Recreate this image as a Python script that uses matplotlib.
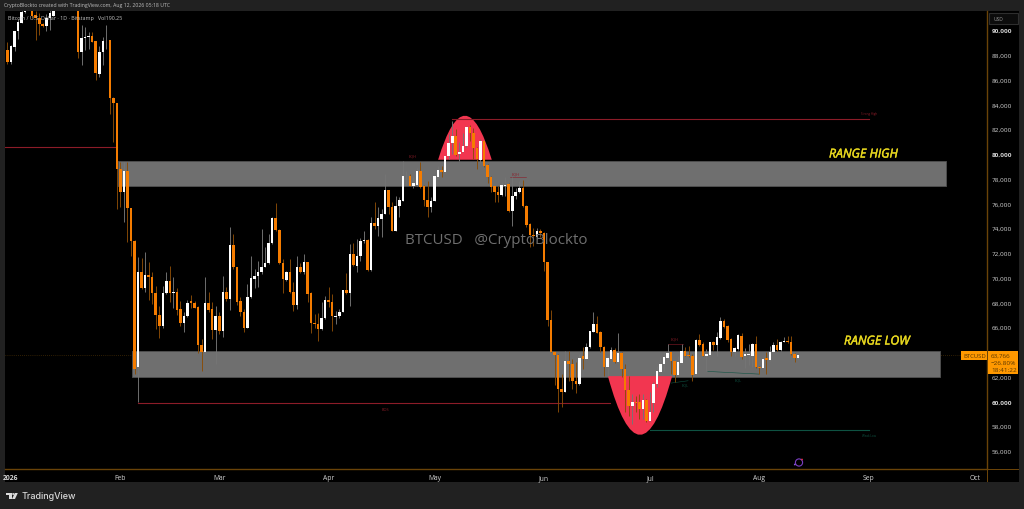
import matplotlib
matplotlib.use("Agg")
import matplotlib.pyplot as plt
import matplotlib.patheffects as pe
import pandas as pd
from matplotlib.patches import Rectangle, PathPatch, Polygon, Circle
from matplotlib.path import Path

opens = [
 87388,88385,87388,88654,89893,90566,91440,92400,93000,91210,
 90970,90485,90350,90950,91160,92000,95500,97000,95800,95500,
 95200,93000,88250,89354,89408,89489,89085,86446,88196,89166,
 89166,84534,84103,78800,76884,78634,75591,72979,62745,70475,
 69155,70205,70071,68724,66974,66112,68724,69747,68751,68859,
 67431,66327,66920,68078,67943,67593,64550,63957,67943,67458,
 65789,66920,65708,68805,68266,72656,70852,68105,67189,65896,
 68401,69882,70098,70421,70879,71148,72791,74837,73868,71175,
 69828,70475,68859,67782,70825,70421,71229,68724,66327,66247,
 65843,66704,68186,68051,66812,66866,67243,68966,68751,71902,
 70959,71767,72952,73033,70636,74406,74137,74729,75133,77099,
 75726,73787,75807,76211,78096,78231,77369,77477,78608,77369,
 76292,75673,76211,78096,78689,78500,79793,80870,81409,79955,
 80116,80601,82136,81678,80439,79523,81005,79093,78096,77369,
 76885,76696,77369,77558,75403,76615,76885,77235,75807,74326,
 73464,73249,73734,73572,71228,66596,64011,63741,60994,60779,
 63283,63014,61668,61398,63634,63418,64361,65626,66219,65573,
 64361,62799,63418,64172,63149,63903,62610,60914,59648,59971,
 59917,59379,60106,58436,59863,61398,62395,63014,63472,63957,
 63230,62126,63095,64091,63741,63687,62179,64953,64630,63687,
 63768,64765,64549,65115,66515,66057,65034,64011,64226,65303,
 63634,63741,63634,64657,62799,62691,63472,63364,63957,64549,
 64145,64819,64872,64791,63849,63472]
closes = [
 88331,87388,88735,89893,90620,91428,92400,93700,91160,90943,
 90485,90324,90943,91400,92000,95500,97000,95800,95500,95200,
 93000,88250,89354,89408,89489,89058,86527,88250,89112,89220,
 84507,84103,78800,76884,78634,75591,72979,62611,70475,69155,
 70205,70017,68724,66974,66112,68751,69747,68751,68805,67404,
 66327,66920,67943,67916,67566,64550,63957,67916,67404,65789,
 66920,65708,68805,68266,72656,70825,68051,67189,65896,68401,
 69936,70098,70421,70879,71175,72791,74837,73868,71175,69882,
 70475,68805,67782,70825,70475,71229,68697,66327,66220,65843,
 66704,68186,68051,66866,66920,67243,68993,68751,71902,71013,
 71767,72979,73060,70636,74406,74137,74783,75160,77099,75672,
 73787,75807,76292,78177,78150,77423,77639,78608,77289,76292,
 75673,76211,78177,78689,78500,79793,80870,81409,79901,80170,
 80601,82136,81678,80439,79577,81005,79039,78096,77342,76885,
 76669,77477,77477,75403,76615,76939,77235,75807,74245,73437,
 73384,73734,73572,71229,66596,64011,63741,60994,60779,63283,
 63014,61614,61398,63499,63418,64415,65653,66219,65519,64361,
 62799,63472,64172,63149,63903,62610,60914,59648,59971,59863,
 59379,60106,58436,59163,61398,62476,63014,63553,63930,63230,
 62126,63149,64091,63687,63633,62126,64953,64576,63687,63822,
 64765,64549,65169,66515,65976,64980,63957,64280,65357,63553,
 63795,63822,64630,62745,62664,63418,63364,64011,64549,64172,
 64819,64899,64791,63822,63472,63766]
highs = [
 88466,89004,88789,89893,90889,91900,93000,94700,93500,91500,
 91400,90600,91293,91600,93000,96000,97800,97200,96000,95800,
 95600,93200,90404,90216,89812,89812,89139,88735,89408,90404,
 89166,84588,84103,79300,79300,79300,75645,73033,71633,71552,
 72090,71282,70475,69290,67728,69343,70475,70905,70017,69128,
 68132,67189,68212,68590,68132,67674,65035,70017,68805,67997,
 67674,67189,70098,69209,74056,73518,70878,68401,67458,69478,
 71713,70690,71363,73922,72440,73518,74918,75995,73922,71498,
 70555,71498,69613,71713,71175,71902,71283,68805,67054,67135,
 68051,68482,69209,68670,67324,67458,69020,70367,72710,72791,
 73114,73168,73787,73114,74864,76076,75672,75537,78365,77099,
 76076,76561,76480,79443,78635,78366,78096,78824,79362,77477,
 77827,76480,78231,79039,79039,79847,81597,82674,82001,80924,
 81678,82270,82324,82055,80520,81193,81059,79174,78231,77423,
 77369,77746,78096,77639,78096,77208,77827,77908,75861,74380,
 74003,74003,73922,73653,71228,67377,64091,63795,62206,64091,
 64091,63418,63149,63822,64361,64684,65707,67242,66919,65707,
 64495,63634,64361,64280,65492,63957,63014,62072,60590,60456,
 60590,60590,60187,60725,61533,62880,63553,63957,64630,63957,
 63283,63687,64630,64361,64495,63822,65034,65438,64765,64226,
 64819,64899,65626,66838,66650,66165,65088,64361,65438,65519,
 64280,64630,64684,65249,62880,63553,63957,64441,64819,65034,
 64899,65169,65303,65249,63903,63766]
lows = [
 86984,87254,87254,88331,89273,90566,91400,92300,91000,89220,
 89597,90250,89947,90000,91100,91800,95000,95500,94800,95000,
 92500,87711,87173,88412,88466,89004,85988,86176,87200,88466,
 83214,80979,75537,75672,74514,72844,71767,62207,59918,69074,
 68859,68212,67862,65843,65089,65896,68670,67997,67512,67001,
 66112,65573,66785,67539,67512,63903,62476,63903,67189,65035,
 63016,65439,65169,68132,67404,70690,67782,66920,65573,65896,
 68320,69128,69209,70286,70825,71094,72710,73787,71094,68751,
 69747,68751,67324,67458,70367,70286,68051,65519,65896,64900,
 65762,66650,67593,65708,66247,66704,67189,68670,67728,70959,
 70421,71363,72791,70555,70555,73922,73383,73248,75106,75133,
 73733,73760,74864,76211,77477,77369,77208,77423,77235,75807,
 74865,75269,76184,78015,78096,78446,79577,79981,79847,79443,
 80116,80520,81059,79577,78770,79227,78904,77639,76885,76077,
 76077,76561,76561,75323,74192,76346,76831,75673,74057,72441,
 72576,73115,73249,70555,66057,63957,61318,59109,59513,60725,
 61668,60994,60644,61318,62610,63364,64307,65573,65492,64011,
 62072,62018,63364,63095,63095,61937,59109,58840,58167,59109,
 58571,58571,58301,58436,59109,61129,62341,62476,63418,62206,
 61533,62072,63014,63633,63553,61668,62126,64495,63633,62476,
 63687,64172,63687,65034,65923,64818,63687,63687,64172,63418,
 62664,62933,62745,62664,62206,62664,62206,63283,63903,64091,
 64091,64765,64711,63741,63149,63418]

price_ticks = list(range(56000, 92000, 2000))
bold_prices = [60000, 80000, 90000]
month_labels = ["2026", "Feb", "Mar", "Apr", "May", "Jun", "Jul", "Aug", "Sep", "Oct"]
month_starts = ["2026-01-01", "2026-02-01", "2026-03-01", "2026-04-01", "2026-05-01",
                "2026-06-01", "2026-07-01", "2026-08-01", "2026-09-01", "2026-10-01"]
range_high = (77395, 79415)
range_low = (62000, 64063)
last_price = 63766

W, H = 1024, 510
BG, AX = "#212121", "#6a4308"
ORANGE, WHITE = "#f57c00", "#ffffff"
ORANGE_W, WHITE_W = "#8a4c06", "#757575"
RED, DRED, GREEN = "#f23650", "#8c1c28", "#0e5242"
TICK = "#d4d4d4"
FONT = "Open Sans"

def fx(x): return x / W
def fy(y): return 1 - y / H
def ftext(x, y, s, **kw):
    kw.setdefault("family", FONT)
    kw.setdefault("va", "center")
    kw.setdefault("zorder", 8)
    return fig.text(fx(x), fy(y), s, **kw)
def frect(x0, y0, x1, y1, **kw):
    fig.add_artist(Rectangle((fx(x0), fy(y1)), (x1 - x0) / W, (y1 - y0) / H,
                             transform=fig.transFigure, **kw))

fig = plt.figure(figsize=(W / 100, H / 100), dpi=100, facecolor=BG)
frect(5, 12, 1019, 483, facecolor="black", edgecolor="none", zorder=-5)
ax = fig.add_axes([fx(5), fy(470), (987 - 5) / W, (470 - 12) / H], facecolor="black")

dates = pd.date_range("2025-12-30", periods=len(opens))
origin = pd.Timestamp("2026-01-01")
days = [(t - origin).days for t in dates]

ax.set_xlim(-1.7, 276.5)
ax.set_ylim(54540, 91535)

ax.axhline(last_price, color="#5e3d08", lw=0.5, ls=(0, (1, 2)), zorder=0.5)

ax.add_patch(Rectangle((30.3, range_high[0]), 264.9 - 30.3, range_high[1] - range_high[0],
                       facecolor="#6f6f6f", edgecolor="#4d4d4d", lw=0.7, zorder=1))
ax.add_patch(Rectangle((34.3, range_low[0]), 263.1 - 34.3, range_low[1] - range_low[0],
                       facecolor="#6f6f6f", edgecolor="#4d4d4d", lw=0.7, zorder=1))

def arc(d0, d1, base, apex):
    verts = [(d0, base), ((d0 + d1) / 2, 2 * apex - base), (d1, base), (d0, base)]
    codes = [Path.MOVETO, Path.CURVE3, Path.CURVE3, Path.CLOSEPOLY]
    ax.add_patch(PathPatch(Path(verts, codes), facecolor=RED, edgecolor="none", zorder=1.5))
arc(121.0, 136.2, 79520, 83076)
arc(169.1, 187.3, 62043, 57300)

ax.plot([-1.7, 29.9], [80522, 80522], color=DRED, lw=0.8, zorder=2)
ax.plot([124.9, 243], [82785, 82785], color=DRED, lw=0.8, zorder=2)
ax.plot([36, 169.7], [59862, 59862], color=DRED, lw=0.8, zorder=2)
ax.plot([181, 243], [57680, 57680], color=GREEN, lw=0.8, zorder=2)
ax.plot([186.1, 190.4], [64603, 64603], color=DRED, lw=0.4, zorder=2)
ax.plot([141.5, 146], [78097, 78097], color=DRED, lw=0.4, zorder=2)
ax.plot([187, 191.8], [61479, 61668], color=GREEN, lw=0.4, zorder=2)
ax.plot([197.4, 211.9], [62422, 62206], color=GREEN, lw=0.4, zorder=2)

ups = [c >= o for o, c in zip(opens, closes)]
ax.vlines(days, lows, highs, colors=[WHITE_W if u else ORANGE_W for u in ups], lw=0.65, zorder=3)
ax.bar(days, [max(abs(c - o), 45) for o, c in zip(opens, closes)],
       bottom=[min(o, c) for o, c in zip(opens, closes)], width=0.72,
       color=[WHITE if u else ORANGE for u in ups], linewidth=0, zorder=4)

ax.yaxis.tick_right()
ax.set_yticks(price_ticks, [f"{p:,}" for p in price_ticks])
ax.set_xticks([(pd.Timestamp(m) - origin).days for m in month_starts], month_labels)
ax.tick_params(axis="y", length=0, labelsize=4.6, labelcolor=TICK, pad=3.5)
ax.tick_params(axis="x", length=0, labelsize=4.9, labelcolor=TICK, pad=3.5)
for lab, p in zip(ax.get_yticklabels(), price_ticks):
    lab.set_family(FONT)
    if p in bold_prices:
        lab.set_fontweight("bold")
for i, lab in enumerate(ax.get_xticklabels()):
    lab.set_family(FONT)
    if i == 0:
        lab.set_fontweight("bold")
for s in ("top", "left"):
    ax.spines[s].set_visible(False)
for s in ("right", "bottom"):
    ax.spines[s].set_color(AX)
    ax.spines[s].set_linewidth(1.0)
frect(987, 469.5, 1019, 470.5, facecolor=AX, edgecolor="none", zorder=2)
frect(986.5, 470, 987.5, 483, facecolor=AX, edgecolor="none", zorder=2)

ftext(4.5, 6, "CryptoBlockto created with TradingView.com, Aug 12, 2026 05:18 UTC",
      color="#bdbdbd", fontsize=3.72)
ftext(7.7, 18.5, "Bitcoin / U.S. Dollar · 1D · Bitstamp   Vol190.25", color="#c4c4c4", fontsize=3.85)

ftext(405, 241, "BTCUSD   @CryptoBlockto", color="#6f6f6f", fontsize=10.9)
stroke = [pe.withStroke(linewidth=0.3, foreground="#e8d81f")]
ftext(829, 155, "RANGE HIGH", color="#e8d81f", fontsize=8.85, style="italic", path_effects=stroke)
ftext(844, 342, "RANGE LOW", color="#e8d81f", fontsize=8.85, style="italic", path_effects=stroke)
ftext(869, 114.5, "Strong High", color=DRED, fontsize=2.2, ha="center")
ftext(869, 436, "Weak Low", color=GREEN, fontsize=2.2, ha="center")
ftext(385, 410, "BOS", color=DRED, fontsize=2.8, ha="center")
ftext(413, 156, "EQH", color=DRED, fontsize=2.8, ha="center")
ftext(516, 174, "EQH", color=DRED, fontsize=2.8, ha="center")
ftext(675, 340, "EQH", color=DRED, fontsize=2.8, ha="center")
ftext(685, 386, "EQL", color=GREEN, fontsize=2.8, ha="center")
ftext(738, 381, "EQL", color=GREEN, fontsize=2.8, ha="center")

frect(989, 14, 1017.5, 25, facecolor="#0c0c0c", edgecolor="#2e2e2e", lw=0.8, zorder=6)
ftext(993, 19.5, "USD", color="#9a9a9a", fontsize=3.5)

frect(961, 352, 987, 361, facecolor="#ff9800", edgecolor="none", zorder=6)
frect(988, 352, 1018, 375, facecolor="#ff9800", edgecolor="none", zorder=6)
ftext(963, 356.5, "BTCUSD", color="#5a3600", fontsize=4.3)
ftext(991, 356.5, "63,766", color="#5a3600", fontsize=4.6)
ftext(991, 363.5, "−26.80%", color="#5a3600", fontsize=4.6)
ftext(991, 370.5, "18:41:22", color="#5a3600", fontsize=4.6)

fig.add_artist(Circle((799, H - 463.5), 3.6, transform=None, facecolor="none",
                      edgecolor="#7b3fc4", lw=0.8, zorder=6))
fig.add_artist(Circle((802, H - 460.5), 0.9, transform=None, facecolor="#e0324a",
                      edgecolor="none", zorder=7))
fig.add_artist(Circle((794.8, H - 465.5), 0.9, transform=None, facecolor="#8d54e0",
                      edgecolor="none", zorder=7))

LOGO = "#dcdcdc"
fig.add_artist(Polygon([(fx(5.5), fy(494)), (fx(11.5), fy(494)), (fx(11.5), fy(500)),
                        (fx(9.2), fy(500)), (fx(9.2), fy(496)), (fx(5.5), fy(496))],
                       transform=fig.transFigure, facecolor=LOGO, edgecolor="none", zorder=7))
fig.add_artist(Polygon([(fx(14.8), fy(494)), (fx(17.8), fy(494)), (fx(15), fy(500)), (fx(12), fy(500))],
                       transform=fig.transFigure, facecolor=LOGO, edgecolor="none", zorder=7))
fig.add_artist(Circle((13.2, H - 495), 1.0, transform=None, facecolor=LOGO, edgecolor="none", zorder=7))
ftext(21.7, 497, "TradingView", color="#d8d8d8", fontsize=6.5, family="Inter", weight="medium")

fig.savefig("out.png", dpi=100, facecolor=BG)
